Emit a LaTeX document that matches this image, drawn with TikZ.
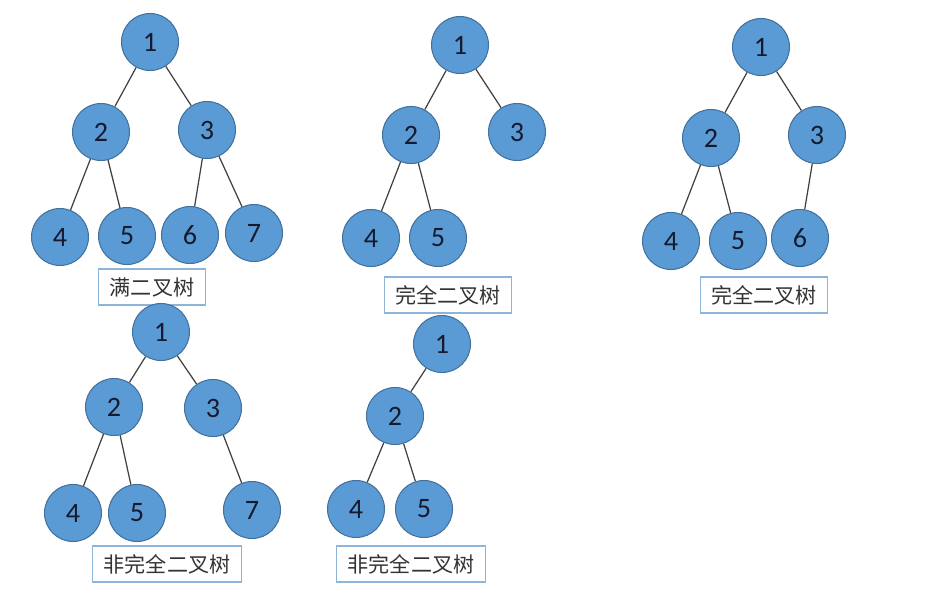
\documentclass[tikz,border=0pt]{standalone}
\usepackage{fontspec}
\setmainfont{Carlito}
\newfontfamily\cjk{Noto Sans CJK SC}
\usepackage{tikz}
\usetikzlibrary{shapes}
\usetikzlibrary{positioning}
\definecolor{nodeblue}{HTML}{5B9BD5}
\definecolor{nodeedge}{HTML}{41719C}
\definecolor{boxedge}{HTML}{8EB4DA}
\definecolor{numtext}{HTML}{151A2E}

\begin{document}
\begin{tikzpicture}[x=0.02cm, y=-0.02cm]
	\tikzstyle{vertex} = [circle, minimum size=1.14cm, inner sep=0pt, fill=nodeblue, draw=nodeedge, line width=0.6pt, text=numtext, font=\fontsize{16}{16}\selectfont]
	\tikzstyle{caption} = [rectangle, draw=boxedge, fill=white, line width=0.6pt, minimum height=0.72cm, inner xsep=6.3pt, text=black!80, font=\cjk\fontsize{12}{12}\selectfont]
	\tikzstyle{edge} = [draw=black!75, line width=0.7pt]
	\useasboundingbox (0,0) rectangle (947,601);
	% full binary tree
	\node (full1)[vertex] at (150, 42) {1};
	\node (full2)[vertex] at (101, 132) {2};
	\node (full3)[vertex] at (207, 130) {3};
	\node (full4)[vertex] at (60, 237) {4};
	\node (full5)[vertex] at (127, 236) {5};
	\node (full6)[vertex] at (190, 235) {6};
	\node (full7)[vertex] at (254, 233) {7};
	\node (fulltitle)[caption] at (152, 287) {满二叉树};
	\draw[edge] (full1) -- (full2);
	\draw[edge] (full1) -- (full3);
	\draw[edge] (full2) -- (full4);
	\draw[edge] (full2) -- (full5);
	\draw[edge] (full3) -- (full6);
	\draw[edge] (full3) -- (full7);
	% complete binary tree, five nodes
	\node (compa1)[vertex] at (460, 45) {1};
	\node (compa2)[vertex] at (411, 135) {2};
	\node (compa3)[vertex] at (517, 132) {3};
	\node (compa4)[vertex] at (371, 238) {4};
	\node (compa5)[vertex] at (438, 238) {5};
	\node (compatitle)[caption] at (448, 295) {完全二叉树};
	\draw[edge] (compa1) -- (compa2);
	\draw[edge] (compa1) -- (compa3);
	\draw[edge] (compa2) -- (compa4);
	\draw[edge] (compa2) -- (compa5);
	% complete binary tree, six nodes
	\node (compb1)[vertex] at (761, 47) {1};
	\node (compb2)[vertex] at (711, 138) {2};
	\node (compb3)[vertex] at (817, 135) {3};
	\node (compb4)[vertex] at (671, 241) {4};
	\node (compb5)[vertex] at (738, 241) {5};
	\node (compb6)[vertex] at (800, 238) {6};
	\node (compbtitle)[caption] at (764, 295) {完全二叉树};
	\draw[edge] (compb1) -- (compb2);
	\draw[edge] (compb1) -- (compb3);
	\draw[edge] (compb2) -- (compb4);
	\draw[edge] (compb2) -- (compb5);
	\draw[edge] (compb3) -- (compb6);
	% not complete, missing 6
	\node (nona1)[vertex] at (161, 332) {1};
	\node (nona2)[vertex] at (114, 407) {2};
	\node (nona3)[vertex] at (213, 408) {3};
	\node (nona4)[vertex] at (73, 513) {4};
	\node (nona5)[vertex] at (137, 513) {5};
	\node (nona7)[vertex] at (252, 510) {7};
	\node (nonatitle)[caption] at (167, 564) {非完全二叉树};
	\draw[edge] (nona1) -- (nona2);
	\draw[edge] (nona1) -- (nona3);
	\draw[edge] (nona2) -- (nona4);
	\draw[edge] (nona2) -- (nona5);
	\draw[edge] (nona3) -- (nona7);
	% not complete, missing right child
	\node (nonb1)[vertex] at (442, 344) {1};
	\node (nonb2)[vertex] at (395, 416) {2};
	\node (nonb4)[vertex] at (356, 509) {4};
	\node (nonb5)[vertex] at (424, 509) {5};
	\node (nonbtitle)[caption] at (411, 564) {非完全二叉树};
	\draw[edge] (nonb1) -- (nonb2);
	\draw[edge] (nonb2) -- (nonb4);
	\draw[edge] (nonb2) -- (nonb5);
\end{tikzpicture}
\end{document}
